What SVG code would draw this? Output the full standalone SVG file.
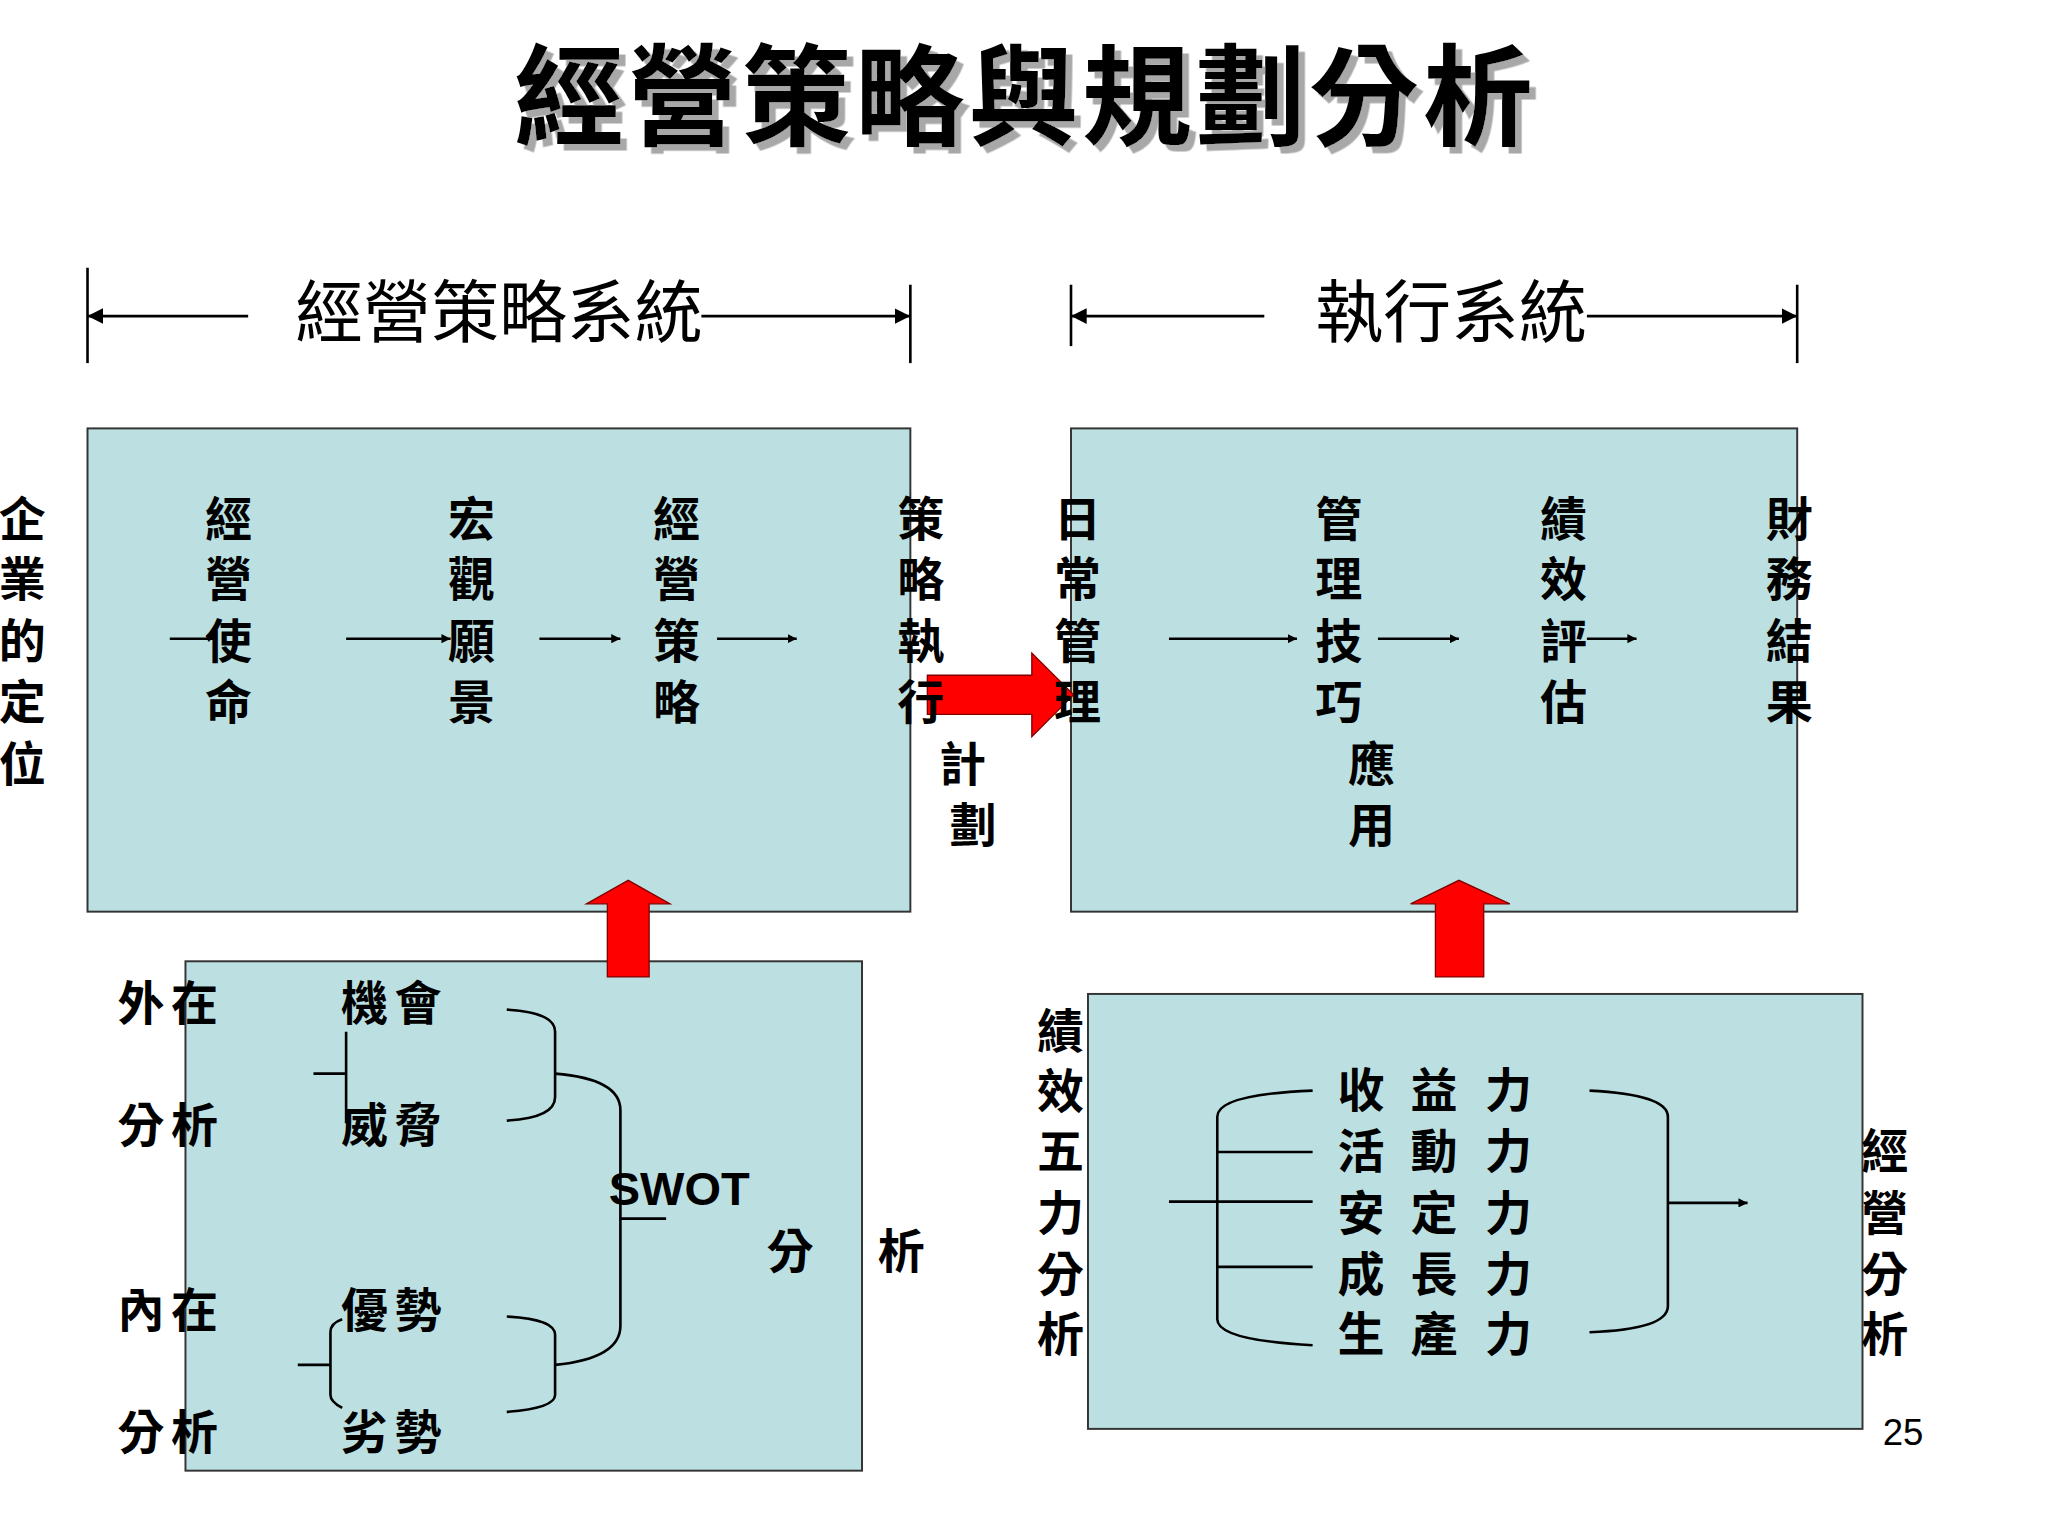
<svg xmlns="http://www.w3.org/2000/svg" width="2048" height="1536" viewBox="0 0 2048 1536">
<style>
.t{font-family:"Liberation Sans","Noto Sans CJK TC",sans-serif;font-weight:bold;fill:#000}
.c{text-anchor:middle;dominant-baseline:central;font-size:36px}
.pair{letter-spacing:5px}
.box{fill:#BCE0E2;stroke:#333;stroke-width:1.5}
.ln{stroke:#000;stroke-width:2;fill:none}
.red{fill:#FF0000;stroke:#800000;stroke-width:1}
</style>
<defs>
<marker id="ah" viewBox="0 0 10 10" refX="10" refY="5" markerWidth="7" markerHeight="7" markerUnits="userSpaceOnUse" orient="auto-start-reverse"><path d="M0,0L10,5L0,10z" fill="#000"/></marker>
<marker id="ah2" viewBox="0 0 10 10" refX="10" refY="5" markerWidth="12" markerHeight="12" markerUnits="userSpaceOnUse" orient="auto-start-reverse"><path d="M0,0L10,5L0,10z" fill="#000"/></marker>
<filter id="sh" x="-5%" y="-20%" width="110%" height="140%"><feDropShadow dx="5" dy="5" stdDeviation="0.5" flood-color="#a8a8a8" flood-opacity="1"/></filter>
</defs>
<rect width="2048" height="1536" fill="#fff"/>
<g transform="scale(1.3061)">
<g id="title">
<text x="785" y="105" text-anchor="middle" font-size="84" letter-spacing="3" class="t" filter="url(#sh)">經營策略與規劃分析</text>
</g>
<g id="headers">
<line class="ln" x1="67" y1="205" x2="67" y2="278"/><line class="ln" x1="697" y1="218" x2="697" y2="278"/>
<line class="ln" x1="190" y1="242" x2="67" y2="242" marker-end="url(#ah2)"/>
<line class="ln" x1="537" y1="242" x2="697" y2="242" marker-end="url(#ah2)"/>
<text x="382" y="258" text-anchor="middle" font-size="52" font-family="Liberation Sans,Noto Sans CJK TC,sans-serif">經營策略系統</text>
<line class="ln" x1="820" y1="218" x2="820" y2="265"/><line class="ln" x1="1376" y1="218" x2="1376" y2="278"/>
<line class="ln" x1="968" y1="242" x2="820" y2="242" marker-end="url(#ah2)"/>
<line class="ln" x1="1215" y1="242" x2="1376" y2="242" marker-end="url(#ah2)"/>
<text x="1111" y="258" text-anchor="middle" font-size="52" font-family="Liberation Sans,Noto Sans CJK TC,sans-serif">執行系統</text>
</g>
<g id="box1"><rect class="box" x="67" y="328" width="630" height="370"/></g>
<g id="box2"><rect class="box" x="820" y="328" width="556" height="370"/></g>
<g id="box3"><rect class="box" x="142" y="736" width="518" height="390"/></g>
<g id="box4"><rect class="box" x="833" y="761" width="593" height="333"/></g>
<g id="connectors">
<line class="ln" x1="130" y1="489" x2="165" y2="489"/>
<line class="ln" x1="265" y1="489" x2="345" y2="489" marker-end="url(#ah)"/>
<line class="ln" x1="413" y1="489" x2="475" y2="489" marker-end="url(#ah)"/>
<line class="ln" x1="549" y1="489" x2="610" y2="489" marker-end="url(#ah)"/>
<line class="ln" x1="895" y1="489" x2="993" y2="489" marker-end="url(#ah)"/>
<line class="ln" x1="1055" y1="489" x2="1117" y2="489" marker-end="url(#ah)"/>
<line class="ln" x1="1215" y1="489" x2="1253" y2="489" marker-end="url(#ah)"/>
<path class="red" d="M710,517H790V500L822,532L790,564V547H710Z"/>
<path class="red" d="M465,748V692H449L481,674L513,692H497V748Z"/>
<path class="red" d="M1099,748V692H1080L1117,674L1156,692H1136V748Z"/>
<g class="ln" stroke-width="1.5">
<path d="M240,822H265M265,790V860"/>
<path d="M388,773Q425,775 425,790V840Q425,856 388,858"/>
<path d="M425,822Q475,826 475,850V1015Q475,1040 425,1045"/>
<path d="M228,1045H253M262,1010Q253,1013 253,1020V1068Q253,1073 262,1078"/>
<path d="M388,1008Q425,1010 425,1022V1068Q425,1078 388,1081"/>
<path d="M475,933H510"/>
<path d="M1005,835Q932,838 932,855V1010Q932,1026 1005,1030"/>
<path d="M932,882H1005M895,920H1005M932,970H1005"/>
<path d="M1217,835Q1277,838 1277,855V1000Q1277,1018 1217,1020"/>
</g>
<line class="ln" x1="1277" y1="921" x2="1338" y2="921" marker-end="url(#ah)"/>
</g>
<g class="t c">
<g id="n-pos"><text x="17" y="398">企</text><text x="17" y="444">業</text><text x="17" y="491">的</text><text x="17" y="538">定</text><text x="17" y="585">位</text></g>
<g id="n-mission"><text x="175" y="398">經</text><text x="175" y="444">營</text><text x="175" y="491">使</text><text x="175" y="538">命</text></g>
<g id="n-vision"><text x="361" y="398">宏</text><text x="361" y="444">觀</text><text x="361" y="491">願</text><text x="361" y="538">景</text></g>
<g id="n-strategy"><text x="518" y="398">經</text><text x="518" y="444">營</text><text x="518" y="491">策</text><text x="518" y="538">略</text></g>
<g id="n-exec"><text x="705" y="398">策</text><text x="705" y="444">略</text><text x="705" y="491">執</text><text x="705" y="538">行</text><text x="737" y="585">計</text><text x="745" y="632">劃</text></g>
<g id="n-daily"><text x="825" y="398">日</text><text x="825" y="444">常</text><text x="825" y="491">管</text><text x="825" y="538">理</text></g>
<g id="n-mgmt"><text x="1025" y="398">管</text><text x="1025" y="444">理</text><text x="1025" y="491">技</text><text x="1025" y="538">巧</text><text x="1050" y="585">應</text><text x="1050" y="632">用</text></g>
<g id="n-perf"><text x="1197" y="398">績</text><text x="1197" y="444">效</text><text x="1197" y="491">評</text><text x="1197" y="538">估</text></g>
<g id="n-fin"><text x="1370" y="398">財</text><text x="1370" y="444">務</text><text x="1370" y="491">結</text><text x="1370" y="538">果</text></g>
<g id="n-swot">
<g class="pair"><text x="131" y="768">外在</text><text x="131" y="862">分析</text><text x="131" y="1003">內在</text><text x="131" y="1097">分析</text>
<text x="302" y="768">機會</text><text x="302" y="862">威脅</text><text x="302" y="1003">優勢</text><text x="302" y="1097">劣勢</text></g>
<text x="520" y="910">SWOT</text><text x="605" y="958">分</text><text x="690" y="958">析</text>
</g>
<g id="n-five">
<text x="812" y="790">績</text><text x="812" y="836">效</text><text x="812" y="882">五</text><text x="812" y="929">力</text><text x="812" y="976">分</text><text x="812" y="1022">析</text>
<text x="1443" y="882">經</text><text x="1443" y="929">營</text><text x="1443" y="976">分</text><text x="1443" y="1022">析</text>
<text x="1042" y="835">收</text><text x="1098" y="835">益</text><text x="1155" y="835">力</text>
<text x="1042" y="882">活</text><text x="1098" y="882">動</text><text x="1155" y="882">力</text>
<text x="1042" y="929">安</text><text x="1098" y="929">定</text><text x="1155" y="929">力</text>
<text x="1042" y="976">成</text><text x="1098" y="976">長</text><text x="1155" y="976">力</text>
<text x="1042" y="1022">生</text><text x="1098" y="1022">產</text><text x="1155" y="1022">力</text>
</g>
</g>
<text x="1457" y="1106" text-anchor="middle" font-size="28" font-family="Liberation Sans,sans-serif">25</text>
</g>
</svg>
